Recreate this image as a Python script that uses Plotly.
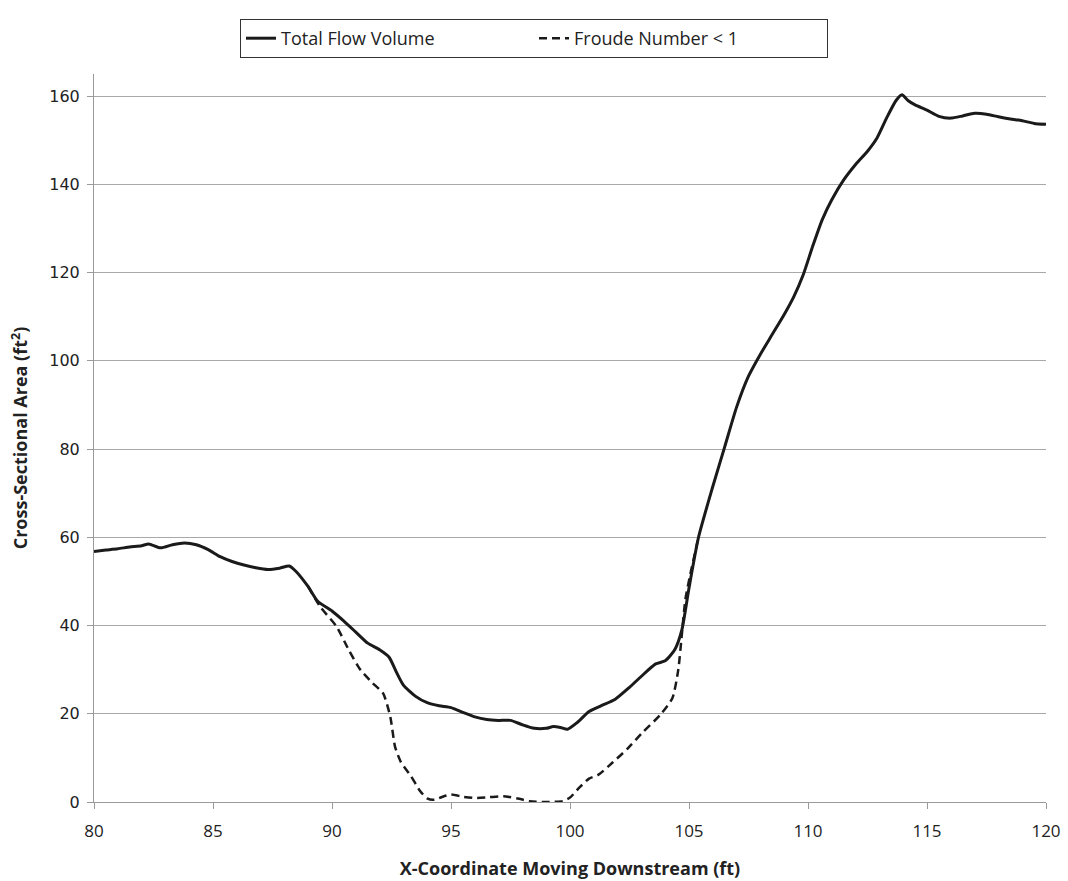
import plotly.graph_objects as go

total_x = [80, 80.5, 81, 81.5, 82, 82.3, 82.8, 83.3, 83.8, 84.3, 84.8, 85.3, 85.8, 86.3, 86.8, 87.3, 87.8, 88.2, 88.5,
           89.0, 89.4, 90.0, 90.5, 91.0, 91.5, 92.0, 92.4, 92.7, 93.0, 93.5, 94.0, 94.5, 95.0, 95.5, 96.0, 96.5,
           97.0, 97.5, 98.0, 98.5, 99.0, 99.3, 99.6, 99.9, 100.3, 100.8, 101.3, 101.9, 102.5, 103.0, 103.6, 104.0,
           104.4, 104.7, 105.0, 105.4, 106.0, 106.5, 107.0, 107.5, 108.0, 108.5, 109.0, 109.4, 109.8, 110.2, 110.6,
           111.0, 111.5, 112.0, 112.5, 112.9, 113.3, 113.7, 113.95, 114.2, 114.5, 115.0, 115.5, 116.0, 116.5, 117.0,
           117.5, 118.0, 118.5, 119.0, 119.5, 120.0]
total_y = [56.8, 57.1, 57.4, 57.8, 58.1, 58.5, 57.6, 58.3, 58.7, 58.3, 57.2, 55.6, 54.5, 53.7, 53.1, 52.7, 53.0, 53.5, 52.2,
           48.8, 45.5, 43.3, 41.0, 38.5, 36.0, 34.5, 32.8, 29.5, 26.5, 24.0, 22.5, 21.8, 21.4, 20.3, 19.3, 18.7,
           18.5, 18.5, 17.5, 16.7, 16.7, 17.1, 16.9, 16.5, 18.0, 20.5, 21.8, 23.3, 26.0, 28.5, 31.3, 32.0,
           34.5, 39.0, 48.5, 60.0, 71.5, 80.5, 89.5, 96.5, 101.5, 106.0, 110.5, 114.5, 119.5, 126.0, 132.0,
           136.5, 141.0, 144.5, 147.5, 150.5, 155.0, 159.0, 160.3, 159.0, 158.0, 156.8, 155.4, 155.0, 155.5, 156.1,
           155.9, 155.3, 154.8, 154.4, 153.8, 153.6]

froude_x = [89.0, 89.5, 90.2, 90.7, 91.2, 91.7, 92.15, 92.45, 92.65, 92.9, 93.3, 93.7, 94.0, 94.3, 94.7, 95.0, 95.5,
            96.0, 96.6, 97.2, 97.8, 98.3, 99.0, 99.7, 100.0, 100.4, 100.8, 101.2, 101.8, 102.4, 103.0, 103.8,
            104.3, 104.55, 104.7, 104.85, 105.05, 105.4]
froude_y = [48.8, 44.3, 39.7, 34.5, 29.9, 27.0, 24.6, 19.3, 12.5, 9.0, 6.0, 2.5, 0.8, 0.5, 1.3, 1.7, 1.2,
            0.9, 1.1, 1.3, 0.8, 0.2, 0.0, 0.2, 1.0, 3.3, 5.3, 6.2, 9.0, 12.0, 15.5, 19.8,
            23.5, 30.0, 38.0, 46.0, 51.5, 60.0]

x_ticks = [80, 85, 90, 95, 100, 105, 110, 115, 120]
y_ticks = [0, 20, 40, 60, 80, 100, 120, 140, 160]

narrow = "Open Sans, sans-serif"

fig = go.Figure()
fig.add_trace(go.Scatter(x=froude_x, y=froude_y, mode="lines", name="Froude Number < 1",
                         line=dict(color="#1a1a1a", width=2.5, dash="8px,5px", shape="spline", smoothing=0.6)))
fig.add_trace(go.Scatter(x=total_x, y=total_y, mode="lines", name="Total Flow Volume",
                         line=dict(color="#1a1a1a", width=3, shape="spline", smoothing=0.6)))

fig.update_layout(
    width=1068, height=881,
    margin=dict(l=94, r=22, t=74, b=79),
    paper_bgcolor="white", plot_bgcolor="white",
    showlegend=True,
    legend=dict(orientation="h", x=0.5, xref="container", xanchor="center",
                y=1 - 19 / 881, yref="container", yanchor="top",
                bordercolor="#333333", borderwidth=1, traceorder="reversed",
                font=dict(family=narrow, size=18, color="#222222"),
                entrywidth=248),
    xaxis=dict(range=[80, 120], tickvals=x_ticks, ticktext=[str(v) for v in x_ticks],
               automargin=False,
               showgrid=False, showline=True, linecolor="#9a9a9a", linewidth=1,
               ticks="outside", ticklen=6, tickcolor="#9a9a9a", ticklabelstandoff=8,
               tickfont=dict(family=narrow, size=17, color="#222222"),
               title=dict(text="X-Coordinate Moving Downstream (ft)", standoff=20,
                          font=dict(family=narrow, size=18, color="#222222", weight="bold")),
               zeroline=False),
    yaxis=dict(range=[0, 165], tickvals=y_ticks, ticktext=[str(v) for v in y_ticks],
               automargin=False,
               showgrid=True, gridcolor="#a8a8a8", gridwidth=1,
               showline=True, linecolor="#9a9a9a", linewidth=1,
               ticks="outside", ticklen=6, tickcolor="#9a9a9a", ticklabelstandoff=4,
               tickfont=dict(family="DejaVu Sans", size=16, color="#222222"),
               title=dict(text="Cross-Sectional Area (ft<sup>2</sup>)", standoff=16,
                          font=dict(family=narrow, size=18, color="#222222", weight="bold")),
               zeroline=False),
)

fig.write_html("out.html")
